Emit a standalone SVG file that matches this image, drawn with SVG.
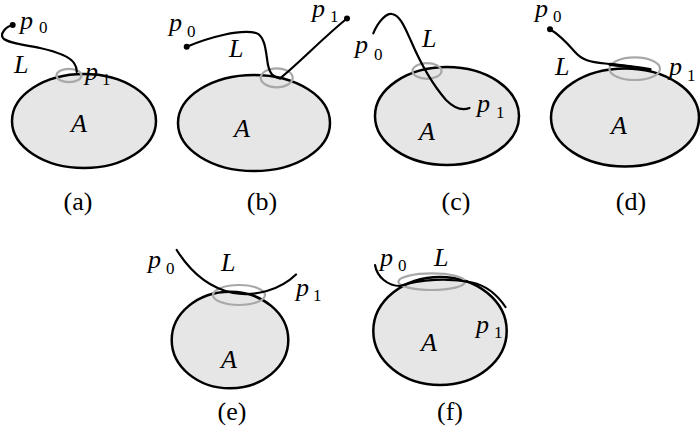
<svg xmlns="http://www.w3.org/2000/svg" width="700" height="434" viewBox="0 0 700 434">
<style>
.reg{fill:#e6e6e6;stroke:#000;stroke-width:2.5}
.hl{fill:none;stroke:#a8a8a8;stroke-width:2.2}
.crv{fill:none;stroke:#000;stroke-width:2.2;stroke-linecap:round}
.thk{fill:none;stroke:#000;stroke-width:3.2;stroke-linecap:round}
.dot{fill:#000}
.it{font-family:"Liberation Serif","Times New Roman",Times,serif;font-style:italic;font-size:26px;fill:#000}
.sub{font-family:"Liberation Serif","Times New Roman",Times,serif;font-size:17px;fill:#000}
.cap{font-family:"Liberation Serif","Times New Roman",Times,serif;font-size:26px;fill:#000;text-anchor:middle}
</style>
<rect width="700" height="434" fill="#fff"/>
<g id="a">
<ellipse class="reg" cx="84" cy="121" rx="72" ry="47"/>
<ellipse class="hl" cx="69" cy="75.5" rx="12.5" ry="6.7"/>
<text class="it" x="20" y="29">p</text><text class="sub" x="39" y="33">0</text>
<text class="it" x="14" y="73">L</text>
<text class="it" x="85" y="80">p</text><text class="sub" x="102" y="85">1</text>
<text class="it" x="71" y="132">A</text>
<text class="cap" x="78" y="210">(a)</text>
</g>
<g id="b">
<ellipse class="reg" cx="254" cy="123" rx="76" ry="48"/>
<ellipse class="hl" cx="276.7" cy="77.8" rx="16" ry="9.5"/>
<text class="it" x="169" y="31">p</text><text class="sub" x="187" y="37">0</text>
<text class="it" x="229" y="57">L</text>
<text class="it" x="312" y="17">p</text><text class="sub" x="330" y="22">1</text>
<text class="it" x="234" y="137">A</text>
<text class="cap" x="262" y="210">(b)</text>
</g>
<g id="c">
<ellipse class="reg" cx="447" cy="116" rx="72" ry="49"/>
<ellipse class="hl" cx="427" cy="71" rx="14.5" ry="7.8"/>
<text class="it" x="355" y="53">p</text><text class="sub" x="374" y="60">0</text>
<text class="it" x="422" y="47">L</text>
<text class="it" x="477" y="112">p</text><text class="sub" x="496" y="118">1</text>
<text class="it" x="419" y="140">A</text>
<text class="cap" x="456" y="210">(c)</text>
</g>
<g id="d">
<ellipse class="reg" cx="625" cy="117.5" rx="74" ry="49"/>
<ellipse class="hl" cx="634.7" cy="68.7" rx="25.3" ry="11.3"/>
<text class="it" x="535" y="17">p</text><text class="sub" x="553" y="22">0</text>
<text class="it" x="555" y="75">L</text>
<text class="it" x="669" y="75">p</text><text class="sub" x="687" y="81">1</text>
<text class="it" x="611" y="134">A</text>
<text class="cap" x="631" y="210">(d)</text>
</g>
<g id="e">
<ellipse class="reg" cx="230" cy="340" rx="58.3" ry="48.3"/>
<ellipse class="hl" cx="239" cy="295" rx="26" ry="10"/>
<text class="it" x="148" y="268">p</text><text class="sub" x="166" y="274">0</text>
<text class="it" x="221" y="271">L</text>
<text class="it" x="296" y="296">p</text><text class="sub" x="313" y="301">1</text>
<text class="it" x="221" y="368">A</text>
<text class="cap" x="232" y="420">(e)</text>
</g>
<g id="f">
<ellipse class="reg" cx="440" cy="331" rx="66.7" ry="54"/>
<ellipse class="hl" cx="431.7" cy="281.7" rx="33.3" ry="8.3"/>
<text class="it" x="380" y="266">p</text><text class="sub" x="398" y="271">0</text>
<text class="it" x="434" y="266">L</text>
<text class="it" x="476" y="333">p</text><text class="sub" x="494" y="338">1</text>
<text class="it" x="421" y="351">A</text>
<text class="cap" x="450" y="420">(f)</text>
</g>
<g id="connectors">
<path class="crv" d="M12.7,25 C5,27 0,34 3,38 C7,43 25,45 40,48 C58,52 70,57 74,63 C76,66 77,69 76.7,72"/>
<circle class="dot" cx="12.7" cy="25" r="3"/>
<path class="crv" d="M186.7,46.7 C210,37 240,29 256,33 C266,36 266,55 268,65 C270,74 273,77 280,78.3"/>
<path class="crv" d="M347,18.5 C325,36 298,64 280,78.3"/>
<circle class="dot" cx="186.7" cy="46.7" r="3"/>
<circle class="dot" cx="347" cy="18.5" r="3"/>
<path class="crv" d="M373.3,33.3 C378,22 386,13 392,14 C400,15 405,28 411,41 C420,62 433,85 446,100 C454,108 462,111 469.5,108"/>
<path class="crv" d="M550,29.3 C560,35 568,44 575,52 C582,60 590,62 605,63.5 C620,65 635,67 650,69.5"/>
<path class="thk" d="M610,64.3 C625,65.8 638,67.5 650,69.5"/>
<circle class="dot" cx="550" cy="29.3" r="3"/>
<path class="crv" d="M176.7,250 C188,268 205,287 233,293 C255,297 280,290 296,274.5"/>
<path class="crv" d="M375,265 C377,277 388,286 400,286 C420,279 450,278 472,282.5 C484,285 496,293 505.5,307"/>
</g>
</svg>
